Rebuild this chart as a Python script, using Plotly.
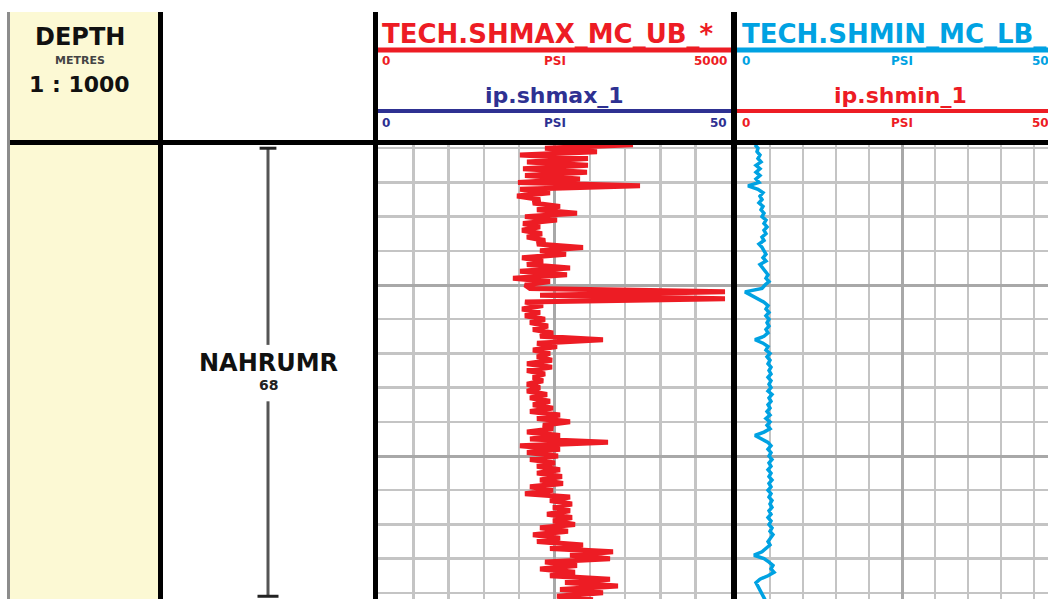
import plotly.graph_objects as go

W, H = 1048, 599

# ---------------- data ----------------
depth_m = list(range(2409, 2543))  # 1 m sampling

shmax_psi = [
    3612, 2365, 3102, 2011, 2974, 2110, 2974, 2054, 2960, 2082,
    2861, 1983, 3711, 2011, 2436, 1969, 2295, 2195, 2578, 2252,
    2819, 2082, 2535, 2054, 2295, 2040, 2323, 2110, 2365, 2252,
    2904, 2295, 2663, 2040, 2337, 2110, 2720, 2011, 2677, 1912,
    2436, 2082, 2153, 4915, 2295, 4915, 2082, 2337, 2040, 2295,
    2082, 2365, 2153, 2408, 2195, 2479, 2295, 3187, 2252, 2535,
    2195, 2436, 2252, 2465, 2110, 2465, 2110, 2365, 2195, 2337,
    2110, 2295, 2110, 2394, 2153, 2436, 2195, 2479, 2153, 2578,
    2252, 2720, 2337, 2479, 2110, 2578, 2153, 3258, 2011, 2578,
    2110, 2550, 2153, 2507, 2252, 2578, 2252, 2606, 2295, 2620,
    2153, 2479, 2082, 2720, 2436, 2748, 2479, 2720, 2394, 2748,
    2479, 2790, 2295, 2691, 2195, 2578, 2252, 2904, 2436, 3329,
    2720, 3286, 2365, 2819, 2295, 2790, 2436, 3286, 2649, 3399,
    2578, 3187, 2535, 3045,
]

shmin_psi = [
    273, 318, 303, 348, 318, 364, 288, 348, 288, 348,
    288, 333, 167, 318, 394, 348, 379, 333, 394, 364,
    409, 379, 439, 409, 455, 409, 439, 379, 409, 333,
    379, 409, 439, 394, 439, 348, 394, 424, 470, 439,
    485, 424, 379, 121, 227, 318, 409, 470, 439, 485,
    439, 485, 455, 485, 439, 470, 409, 273, 394, 470,
    439, 500, 455, 500, 470, 515, 485, 515, 470, 515,
    485, 515, 470, 530, 485, 515, 470, 500, 455, 500,
    439, 500, 455, 500, 409, 273, 379, 470, 515, 470,
    515, 485, 530, 485, 515, 470, 515, 485, 530, 485,
    515, 470, 515, 485, 530, 500, 530, 485, 515, 470,
    515, 485, 530, 500, 545, 500, 470, 500, 439, 379,
    258, 409, 485, 545, 515, 561, 470, 348, 288, 318,
    348, 379, 409, 424,
]

zone_name = "NAHRUMR"
zone_code = "68"
zone_top = 2410
zone_bottom = 2541

depth_view = [2541.8, 2409.06]
scale_psi = [0, 5000]

# ---------------- styling ----------------
RED = "#ED1C24"
NAVY = "#2E3192"
CYAN = "#00A2E2"
YELLOW = "#FCF9D4"
FONT = "DejaVu Sans"


def px(x):
    return x / W


def py(y):
    return 1 - y / H


PLOT_TOP = 145
T1 = (378, 731)
T2 = (737, 1067)
ZONE = (163, 373)

fig = go.Figure()

fig.add_trace(go.Scatter(x=shmax_psi, y=depth_m, mode="lines",
                         line=dict(color=RED, width=5),
                         xaxis="x", yaxis="y", showlegend=False,
                         name="TECH.SHMAX_MC_UB_1"))
fig.add_trace(go.Scatter(x=shmin_psi, y=depth_m, mode="lines",
                         line=dict(color=CYAN, width=3.5),
                         xaxis="x2", yaxis="y", showlegend=False,
                         name="TECH.SHMIN_MC_LB_1"))

# zone marker (depth interval) in zone track
zmid = (zone_top + zone_bottom) / 2
fig.add_trace(go.Scatter(x=[0.5, 0.5, None, 0.5, 0.5],
                         y=[zone_top, zmid - 8, None, zmid + 8.5, zone_bottom],
                         mode="lines", line=dict(color="#555555", width=3),
                         xaxis="x3", yaxis="y3", showlegend=False))
fig.add_trace(go.Scatter(x=[0.46, 0.54, None, 0.45, 0.55],
                         y=[zone_top, zone_top, None, zone_bottom, zone_bottom],
                         mode="lines", line=dict(color="#222222", width=3),
                         xaxis="x3", yaxis="y3", showlegend=False))

grid_major = dict(showgrid=True, gridcolor="#A8A8A8", gridwidth=3)
grid_minor = dict(showgrid=True, gridcolor="#C4C4C4", gridwidth=2.5)
common = dict(showticklabels=False, zeroline=False, showline=False, ticks="")

range2 = [0, scale_psi[1] * (W - T2[0]) / (T2[1] - T2[0])]

fig.update_layout(
    width=W, height=H,
    margin=dict(l=0, r=0, t=0, b=0),
    paper_bgcolor="white", plot_bgcolor="white",
    showlegend=False,
    xaxis=dict(domain=[px(T1[0]), px(T1[1])], range=scale_psi, dtick=2500, tick0=0,
               minor=dict(dtick=500, **grid_minor), anchor="y", **grid_major, **common),
    xaxis2=dict(domain=[px(T2[0]), 1.0], range=range2, dtick=2500, tick0=0,
                minor=dict(dtick=500, **grid_minor), anchor="y", **grid_major, **common),
    yaxis=dict(domain=[0, py(PLOT_TOP)], range=depth_view, dtick=50, tick0=0,
               minor=dict(dtick=10, **grid_minor), anchor="x", **grid_major, **common),
    xaxis3=dict(domain=[px(ZONE[0]), px(ZONE[1])], range=[0, 1], visible=False, anchor="y3"),
    yaxis3=dict(domain=[0, py(PLOT_TOP)], range=depth_view, visible=False, anchor="x3"),
)

shapes = []


def hline(x0, x1, y, color, width):
    shapes.append(dict(type="line", xref="paper", yref="paper",
                       x0=px(x0), x1=px(x1), y0=py(y), y1=py(y),
                       line=dict(color=color, width=width), layer="above"))


def vline(x, y0, y1, color, width):
    shapes.append(dict(type="line", xref="paper", yref="paper",
                       x0=px(x), x1=px(x), y0=py(y0), y1=py(y1),
                       line=dict(color=color, width=width), layer="above"))


# depth track background
shapes.append(dict(type="rect", xref="paper", yref="paper",
                   x0=px(10), x1=px(158), y0=py(H), y1=py(12),
                   fillcolor=YELLOW, line=dict(width=0), layer="below"))
vline(8.5, 12, H, "#8C8C8C", 3)
# track borders
vline(160.5, 12, H, "black", 5)
vline(375.5, 12, H, "black", 5)
vline(734, 12, H, "black", 6)
hline(10, W, 142.5, "black", 5)
# header scale lines
hline(T1[0], T1[1], 50, RED, 5)
hline(T1[0], T1[1], 111, NAVY, 4)
hline(T2[0], W, 50, CYAN, 5)
hline(T2[0], W, 111, RED, 4)

fig.update_layout(shapes=shapes)

ann = []


def text(s, x, y, size, color, xanchor="center", bold=True, **kw):
    ann.append(dict(text=s, x=px(x), y=py(y), xref="paper", yref="paper",
                    xanchor=xanchor, yanchor="middle", showarrow=False,
                    font=dict(family=FONT, size=size, color=color,
                              weight="bold" if bold else "normal"), **kw))


# depth header
text("DEPTH", 80, 37, 24, "#111111")
text("METRES", 80, 60, 11, "#444444")
text("1 : 1000", 79, 85, 22, "#111111")

# track 1 header
text("TECH.SHMAX_MC_UB_*", 380, 34, 26, RED, xanchor="left")
text("0", 380, 61, 12, RED, xanchor="left")
text("PSI", 555, 61, 12, RED)
text("5000", 729, 61, 12, RED, xanchor="right")
text("ip.shmax_1", 554, 95, 22, NAVY)
text("0", 380, 123, 12, NAVY, xanchor="left")
text("PSI", 555, 123, 12, NAVY)
text("50", 729, 123, 12, NAVY, xanchor="right")

# track 2 header
text("TECH.SHMIN_MC_LB_1", 740, 34, 26, CYAN, xanchor="left")
text("0", 740, 61, 12, CYAN, xanchor="left")
text("PSI", 902, 61, 12, CYAN)
text("5000", 1067, 61, 12, CYAN, xanchor="right")
text("ip.shmin_1", 900, 95, 22, RED)
text("0", 740, 123, 12, RED, xanchor="left")
text("PSI", 902, 123, 12, RED)
text("5000", 1067, 123, 12, RED, xanchor="right")

fig.update_layout(annotations=ann)

# zone labels
fig.add_annotation(text=zone_name, x=0.5, y=zmid, xref="x3", yref="y3",
                   showarrow=False, yshift=9, yanchor="middle",
                   font=dict(family=FONT, size=24, color="#111111", weight="bold"))
fig.add_annotation(text=zone_code, x=0.5, y=zmid, xref="x3", yref="y3",
                   showarrow=False, yshift=-13, yanchor="middle",
                   font=dict(family=FONT, size=14, color="#222222", weight="bold"))

fig.write_html("out.html",
               config={"displayModeBar": False, "staticPlot": True},
               post_script="document.body.style.margin='0';document.body.style.overflow='hidden';")
